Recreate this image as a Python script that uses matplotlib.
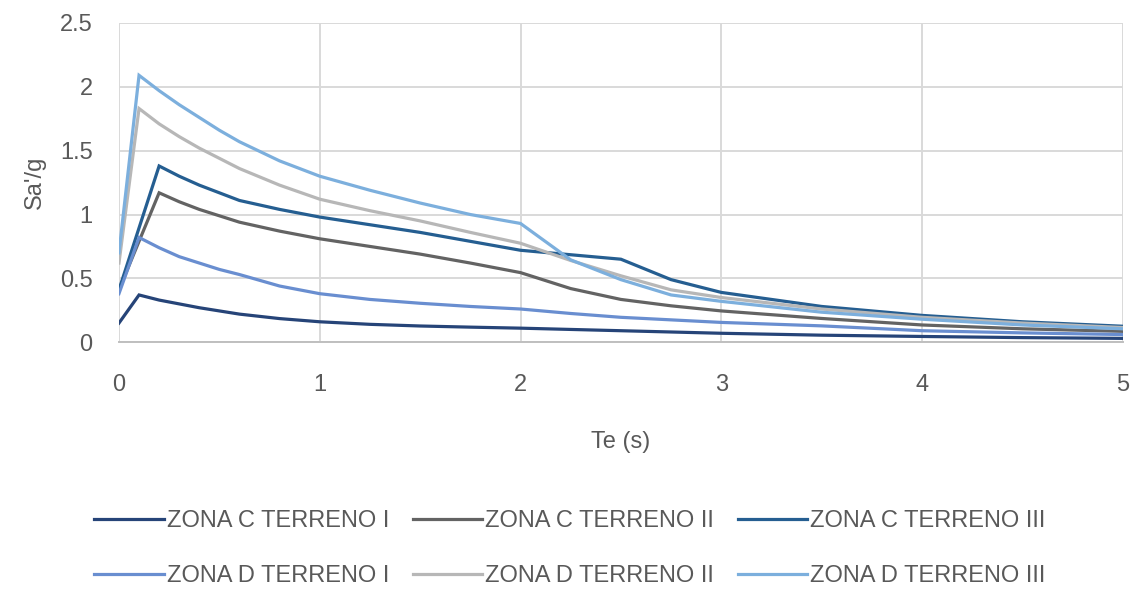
import matplotlib
matplotlib.use("Agg")
import matplotlib.pyplot as plt

# periods (s)
te = [0, 0.1, 0.2, 0.3, 0.4, 0.5, 0.6, 0.8, 1.0, 1.25, 1.5, 1.75, 2.0,
      2.25, 2.5, 2.75, 3.0, 3.5, 4.0, 4.5, 5.0]

# reduced spectral ordinates Sa'/g
zona_c_terreno_1 = [0.15, 0.37, 0.33, 0.30, 0.27, 0.245, 0.22, 0.185, 0.16, 0.14, 0.127, 0.118, 0.11,
                    0.10, 0.09, 0.08, 0.07, 0.055, 0.045, 0.036, 0.03]
zona_c_terreno_2 = [0.41, 0.79, 1.17, 1.10, 1.04, 0.99, 0.94, 0.87, 0.81, 0.75, 0.69, 0.62, 0.545,
                    0.42, 0.335, 0.285, 0.245, 0.186, 0.135, 0.105, 0.085]
zona_c_terreno_3 = [0.41, 0.895, 1.38, 1.30, 1.23, 1.17, 1.11, 1.04, 0.98, 0.92, 0.86, 0.79, 0.72,
                    0.685, 0.65, 0.49, 0.39, 0.28, 0.21, 0.16, 0.125]
zona_d_terreno_1 = [0.38, 0.82, 0.74, 0.67, 0.62, 0.57, 0.53, 0.44, 0.38, 0.335, 0.305, 0.28, 0.26,
                    0.225, 0.195, 0.175, 0.155, 0.128, 0.09, 0.073, 0.06]
zona_d_terreno_2 = [0.62, 1.83, 1.71, 1.61, 1.52, 1.44, 1.36, 1.23, 1.12, 1.03, 0.95, 0.86, 0.775,
                    0.64, 0.52, 0.41, 0.35, 0.26, 0.195, 0.15, 0.115]
zona_d_terreno_3 = [0.70, 2.09, 1.97, 1.86, 1.76, 1.66, 1.57, 1.42, 1.30, 1.19, 1.09, 1.00, 0.93,
                    0.645, 0.49, 0.37, 0.32, 0.235, 0.18, 0.135, 0.105]

series = [
    ("ZONA C TERRENO I", zona_c_terreno_1, "#264478"),
    ("ZONA C TERRENO II", zona_c_terreno_2, "#636363"),
    ("ZONA C TERRENO III", zona_c_terreno_3, "#255E91"),
    ("ZONA D TERRENO I", zona_d_terreno_1, "#698ED0"),
    ("ZONA D TERRENO II", zona_d_terreno_2, "#B7B7B7"),
    ("ZONA D TERRENO III", zona_d_terreno_3, "#7CAFDD"),
]

plt.rcParams['font.family'] = ['Liberation Sans', 'DejaVu Sans']
text_color = "#595959"

fig = plt.figure(figsize=(11.33, 5.89), dpi=100)
ax = fig.add_axes([0.105, 0.419, 0.886, 0.542])

lines = []
for name, vals, col in series:
    ln, = ax.plot(te, vals, color=col, lw=2.3, label=name, solid_joinstyle='miter')
    lines.append(ln)

ax.set_xlim(0, 5)
ax.set_ylim(0, 2.5)
ax.set_xticks([0, 1, 2, 3, 4, 5])
ax.set_yticks([0, 0.5, 1, 1.5, 2, 2.5])
ax.set_yticklabels(["0", "0.5", "1", "1.5", "2", "2.5"])
ax.grid(True, color="#D9D9D9", lw=1.4)
ax.set_axisbelow(True)
for s in ["top", "right", "left"]:
    ax.spines[s].set_visible(False)
ax.spines["bottom"].set_color("#BFBFBF")
ax.spines["bottom"].set_linewidth(1.4)
ax.tick_params(length=0, labelsize=17, colors=text_color)
ax.tick_params(axis='x', pad=23)
ax.tick_params(axis='y', pad=19)

ax.set_xlabel("Te (s)", fontsize=17, color=text_color, labelpad=25)
ax.set_ylabel("Sa'/g", fontsize=17, color=text_color, labelpad=10)

# legend filled row by row (3 per row)
order = [0, 3, 1, 4, 2, 5]
fig.legend([lines[i] for i in order], [series[i][0] for i in order],
           loc="center", bbox_to_anchor=(0.503, 0.069), ncol=3, frameon=False,
           fontsize=17, labelcolor=text_color, handlelength=2.95, handletextpad=0.12,
           columnspacing=1.0, labelspacing=1.4)

fig.savefig("out.png", dpi=100)
